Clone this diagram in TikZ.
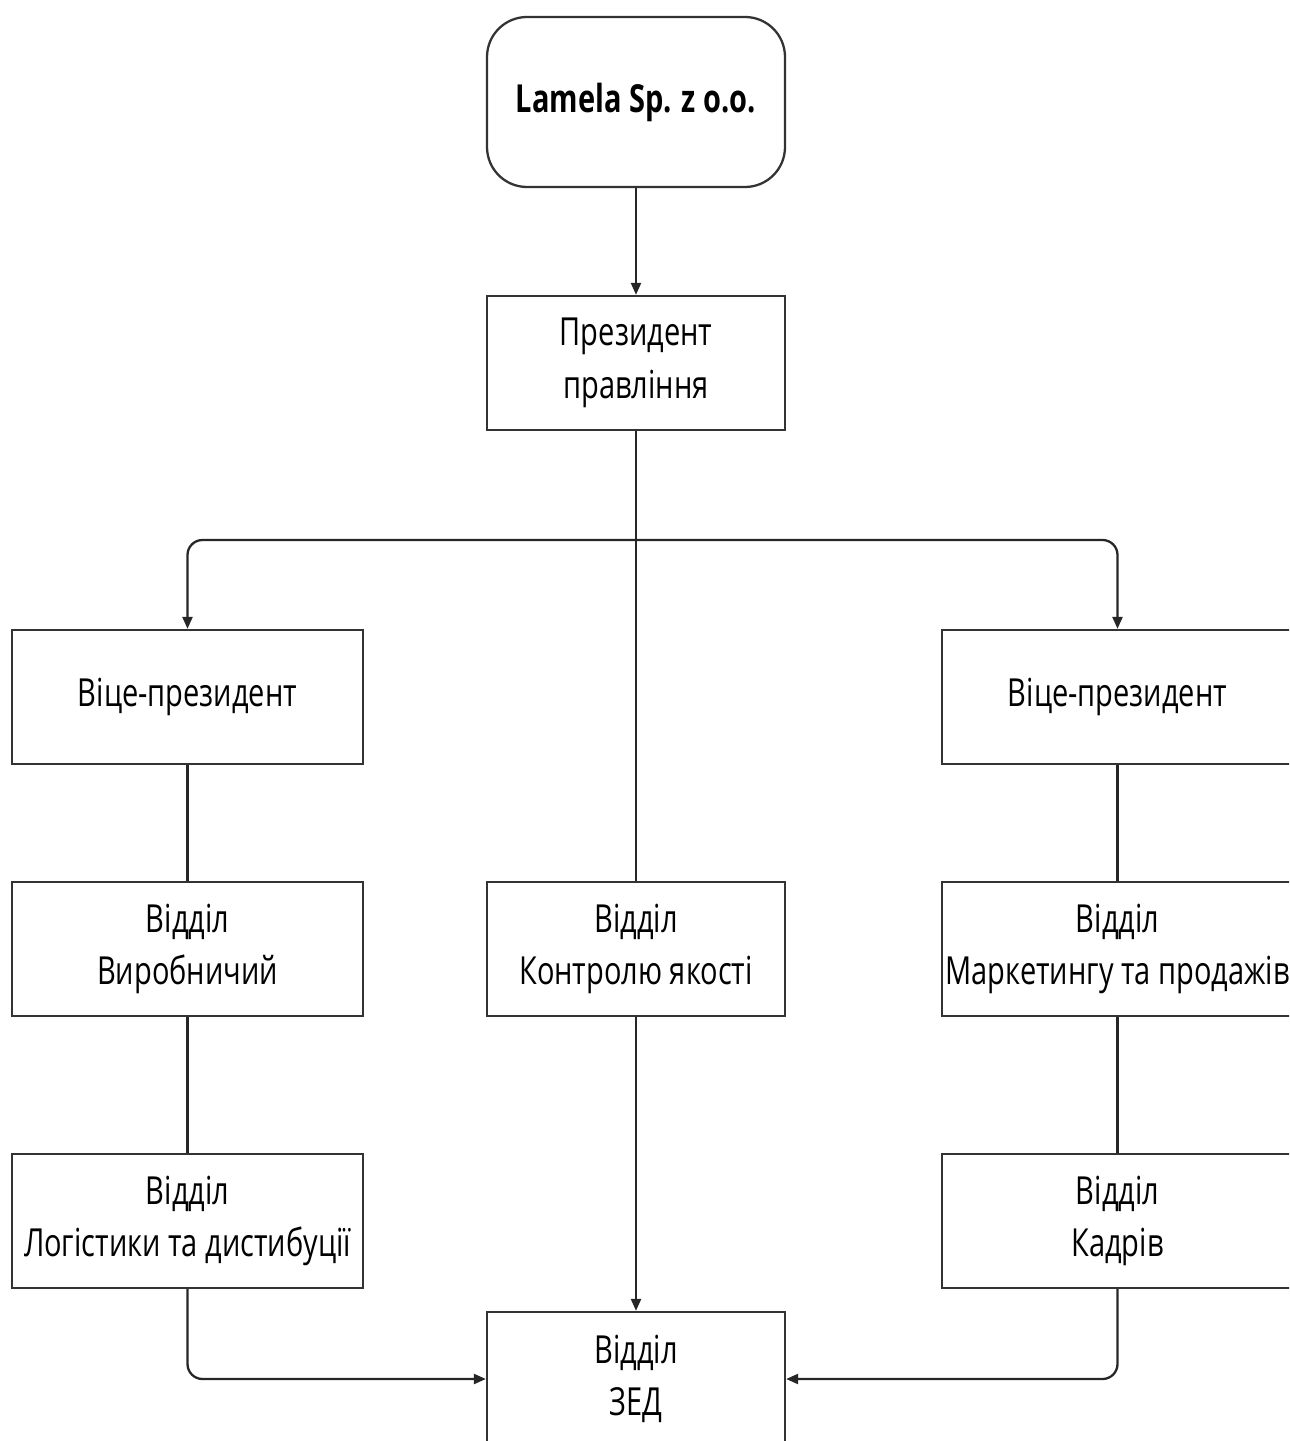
\documentclass[tikz,border=0pt]{standalone}
\usepackage{fontspec}
\setmainfont{Open Sans}[FakeStretch=0.75]
\usetikzlibrary{arrows.meta}
\begin{document}
\begin{tikzpicture}
[unitbox/.style={rectangle,draw=black!80,line width=1.3pt,inner xsep=1pt,
minimum width=7.02cm,minimum height=2.68cm,align=center,
font=\fontsize{22}{30}\selectfont},
midbox/.style={unitbox,minimum width=5.96cm},
topbox/.style={midbox,rounded corners=0.8cm,minimum height=3.4cm,
font=\fontsize{22}{30}\selectfont\bfseries},
link/.style={draw=black!85,line width=1.3pt,rounded corners=0.3cm},
arr/.style={link,-{Triangle[length=0.24cm,width=0.2cm]}}]
       \clip (0,0) rectangle (25.78,-28.82);
       \node (top) at (12.72,-2.04) [topbox] {Lamela Sp. z o.o.};
       \node (pres) at (12.72,-7.26) [midbox] {Президент\\правління};
       \node (vpl) at (3.75,-13.94) [unitbox] {Віце-президент};
       \node (vpr) at (22.35,-13.94) [unitbox] {Віце-президент};
       \node (vir) at (3.75,-18.98) [unitbox] {Відділ\\Виробничий};
       \node (kontr) at (12.72,-18.98) [midbox] {Відділ\\Контролю якості};
       \node (mark) at (22.35,-18.98) [unitbox] {Відділ\\Маркетингу та продажів};
       \node (log) at (3.75,-24.42) [unitbox] {Відділ\\Логістики та дистибуції};
       \node (kadr) at (22.35,-24.42) [unitbox] {Відділ\\Кадрів};
       \node (zed) at (12.72,-27.58) [midbox] {Відділ\\ЗЕД};
       \coordinate (fork) at (12.72,-10.8);
       \draw[arr] (top) -- (pres);
       \draw[link] (pres) -- (kontr);
       \draw[arr] (fork) -| (vpl);
       \draw[arr] (fork) -| (vpr);
       \draw[link] (vpl) -- (vir) -- (log);
       \draw[link] (vpr) -- (mark) -- (kadr);
       \draw[arr] (kontr) -- (zed);
       \draw[arr] (log) |- (zed);
       \draw[arr] (kadr) |- (zed);
    \end{tikzpicture}
\end{document}
